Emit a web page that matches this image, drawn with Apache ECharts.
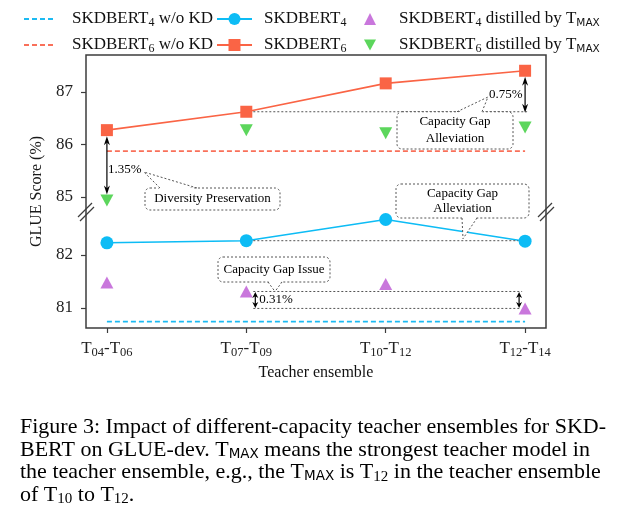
<!DOCTYPE html>
<html><head><meta charset="utf-8">
<script src="https://cdn.jsdelivr.net/npm/echarts@6/dist/echarts.min.js"></script>
<style>html,body{margin:0;padding:0;background:#fff}#c{width:630px;height:528px}</style>
</head><body><div id="c"></div>
<script>
// ---------------- data ----------------
const CATEGORIES = ['T_{04}-T_{06}', 'T_{07}-T_{09}', 'T_{10}-T_{12}', 'T_{12}-T_{14}'];
const SKD6 = [86.27, 86.62, 87.16, 87.40];            // SKDBERT6
const SKD6_TMAX = [84.93, 86.27, 86.21, 86.32];       // SKDBERT6 distilled by TMAX
const SKD6_NOKD = [85.87, 85.87, 85.87, 85.87];       // SKDBERT6 w/o KD
const SKD4 = [82.23, 82.27, 82.67, 82.26];            // SKDBERT4
const SKD4_TMAX = [81.48, 81.31, 81.45, 80.99];       // SKDBERT4 distilled by TMAX
const SKD4_NOKD = [80.74, 80.74, 80.74, 80.74];       // SKDBERT4 w/o KD
const Y_TICKS_TOP = [85, 86, 87];
const Y_TICKS_BOTTOM = [81, 82];
const NAMES = {
  n4nokd: 'SKDBERT_{4} w/o KD', n4: 'SKDBERT_{4}', n4t: 'SKDBERT_{4} distilled by T_{MAX}',
  n6nokd: 'SKDBERT_{6} w/o KD', n6: 'SKDBERT_{6}', n6t: 'SKDBERT_{6} distilled by T_{MAX}'
};
const CAPTION = [
  'Figure 3: Impact of different-capacity teacher ensembles for SKD-',
  'BERT on GLUE-dev. T_{MAX} means the strongest teacher model in',
  'the teacher ensemble, e.g., the T_{MAX} is T_{12} in the teacher ensemble',
  'of T_{10} to T_{12}.'
];
const NOTES = { gapTop: '0.75%', div: '1.35%', gapBottom: '0.31%' };

// ---------------- style ----------------
const SERIF = '"Liberation Serif", "DejaVu Serif", serif';
const SANS = '"DejaVu Sans", sans-serif';
const RED = '#fa6445', BLUE = '#0dbcf5', GREEN = '#33cc33', PURPLE = '#bb55d3';
const RED_D = '#f9705a', BLUE_D = '#1cbaf2';
const G = { l: 86, r: 546, t: 55, b: 328, brk: 210 };
const FRAME = '#3c3c3c';

function richify(s, n, d, m) {
  return s.split(/_\{([^}]*)\}/).map((p, i) => {
    if (!p) return '';
    if (i % 2 === 0) return '{' + n + '|' + p + '}';
    return '{' + (/^\d+$/.test(p) ? d : m) + '|' + p + '}';
  }).join('');
}
const pts = arr => arr.map((v, i) => [i, v]);

const legendRich = {
  n: { fontFamily: SERIF, fontSize: 17, lineHeight: 20, verticalAlign: 'middle', color: '#111' },
  s: { fontFamily: SERIF, fontSize: 12, lineHeight: 12, padding: [8, 0, 0, 0], verticalAlign: 'middle', color: '#111' },
  m: { fontFamily: SANS, fontSize: 10.5, lineHeight: 12, padding: [8, 0, 0, 0], verticalAlign: 'middle', color: '#111' }
};
function mkLegend(name, left, cy, w, h, pad, hideSymbol) {
  const l = {
    data: [name], left: left, top: cy - 10, itemWidth: w, itemHeight: h, padding: 0,
    selectedMode: false,
    formatter: nm => richify(nm, 'n', 's', 'm'),
    textStyle: { rich: legendRich, padding: [0, 0, 0, pad] }
  };
  if (hideSymbol) l.itemStyle = { opacity: 0, color: 'rgba(0,0,0,0)', borderWidth: 0 };
  return l;
}

const chart = echarts.init(document.getElementById('c'), null, { renderer: 'canvas' });
const DOWN_TRI = 'path://M0,0L10,0L5,9Z';

const xBase = { type: 'value', min: -0.15, max: 3.15, splitLine: { show: false } };
const capRich = {
  n: { fontFamily: SERIF, fontSize: 22, fontWeight: 'normal', lineHeight: 22.5, verticalAlign: 'middle', color: '#000' },
  s: { fontFamily: SERIF, fontSize: 15, fontWeight: 'normal', lineHeight: 13, padding: [9, 0, 0, 0], verticalAlign: 'middle', color: '#000' },
  m: { fontFamily: SANS, fontSize: 13.5, fontWeight: 'normal', lineHeight: 13, padding: [9, 0, 0, 0], verticalAlign: 'middle', color: '#000' }
};
const option = {
  animation: false,
  backgroundColor: '#fff',
  title: {
    left: 20, top: 416, padding: 0,
    text: CAPTION.map(l => richify(l, 'n', 's', 'm')).join('\n'),
    textStyle: { fontWeight: 'normal', fontFamily: SERIF, fontSize: 22, rich: capRich }
  },
  legend: [
    mkLegend(NAMES.n4nokd, 23, 19, 32, 12, 11, true),
    mkLegend(NAMES.n4, 216, 19, 35, 15, 7),
    mkLegend(NAMES.n4t, 364, 19, 12, 12, 18),
    mkLegend(NAMES.n6nokd, 23, 45, 32, 12, 11, true),
    mkLegend(NAMES.n6, 216, 45, 35, 15, 7),
    mkLegend(NAMES.n6t, 364, 45, 12, 12, 18)
  ],
  grid: [
    { left: G.l, right: 630 - G.r, top: G.t, height: G.brk - G.t },
    { left: G.l, right: 630 - G.r, top: G.brk, height: G.b - G.brk }
  ],
  xAxis: [
    Object.assign({}, xBase, { gridIndex: 0, show: false, axisLine: { show: false, onZero: false } }),
    Object.assign({}, xBase, {
      gridIndex: 1,
      axisLine: { show: false, onZero: false },
      axisTick: { show: true, length: 5, lineStyle: { color: FRAME, width: 1.2 }, customValues: [0, 1, 2, 3] },
      axisLabel: {
        customValues: [0, 1, 2, 3], margin: 11,
        formatter: v => richify(CATEGORIES[Math.round(v)], 'n', 's', 'm'),
        rich: {
          n: { fontFamily: SERIF, fontSize: 17, lineHeight: 20, verticalAlign: 'middle', color: '#222' },
          s: { fontFamily: SERIF, fontSize: 12.5, lineHeight: 12, padding: [8, 0, 0, 0], verticalAlign: 'middle', color: '#222' }
        },
        fontFamily: SERIF, fontSize: 17, color: '#222'
      },
      name: 'Teacher ensemble', nameLocation: 'middle', nameGap: 37,
      nameTextStyle: { fontFamily: SERIF, fontSize: 16, color: '#111' }
    })
  ],
  yAxis: [
    {
      type: 'value', gridIndex: 0, min: 84.75, max: 87.7,
      splitLine: { show: false }, axisLine: { show: false, onZero: false },
      axisTick: { show: true, length: 5, lineStyle: { color: FRAME, width: 1.2 }, customValues: Y_TICKS_TOP },
      axisLabel: { customValues: Y_TICKS_TOP, margin: 13, fontFamily: SERIF, fontSize: 17, color: '#222' }
    },
    {
      type: 'value', gridIndex: 1, min: 80.62, max: 82.85,
      splitLine: { show: false }, axisLine: { show: false, onZero: false },
      axisTick: { show: true, length: 5, lineStyle: { color: FRAME, width: 1.2 }, customValues: Y_TICKS_BOTTOM },
      axisLabel: { customValues: Y_TICKS_BOTTOM, margin: 13, fontFamily: SERIF, fontSize: 17, color: '#222' }
    }
  ],
  series: [
    { name: NAMES.n4nokd, type: 'line', xAxisIndex: 1, yAxisIndex: 1, data: pts(SKD4_NOKD), symbol: 'none',
      lineStyle: { color: BLUE_D, width: 1.6, type: [5, 3] }, itemStyle: { color: BLUE_D }, z: 2 },
    { name: NAMES.n4, type: 'line', xAxisIndex: 1, yAxisIndex: 1, data: pts(SKD4), symbol: 'circle', symbolSize: 13,
      lineStyle: { color: BLUE, width: 1.6 }, itemStyle: { color: BLUE }, z: 3 },
    { name: NAMES.n4t, type: 'scatter', xAxisIndex: 1, yAxisIndex: 1, data: pts(SKD4_TMAX), symbol: 'triangle', symbolSize: [13, 12],
      itemStyle: { color: PURPLE }, z: 4 },
    { name: NAMES.n6nokd, type: 'line', xAxisIndex: 0, yAxisIndex: 0, data: pts(SKD6_NOKD), symbol: 'none',
      lineStyle: { color: RED_D, width: 1.6, type: [5, 3] }, itemStyle: { color: RED_D }, z: 2 },
    { name: NAMES.n6, type: 'line', xAxisIndex: 0, yAxisIndex: 0, data: pts(SKD6), symbol: 'rect', symbolSize: 12,
      lineStyle: { color: RED, width: 1.6 }, itemStyle: { color: RED }, z: 3 },
    { name: NAMES.n6t, type: 'scatter', xAxisIndex: 0, yAxisIndex: 0, data: pts(SKD6_TMAX), symbol: DOWN_TRI, symbolSize: [13, 12],
      itemStyle: { color: GREEN }, z: 4 }
  ]
};
chart.setOption(option);

// ---------------- annotations ----------------
const P = (g, x, v) => chart.convertToPixel({ gridIndex: g }, [x, v]);
const els = [];
const DOT = { stroke: '#555', lineWidth: 1, lineDash: [2, 2], fill: null };
function line(x1, y1, x2, y2, style, z) {
  els.push({ type: 'line', z: z || 20, shape: { x1, y1, x2, y2 }, style: Object.assign({}, style) });
}
function head(x, y, dir, hl, hw) {
  els.push({ type: 'polygon', z: 21, shape: { points: [[x, y], [x - hw / 2, y + dir * hl], [x, y + dir * hl * 0.7], [x + hw / 2, y + dir * hl]] },
    style: { fill: '#000' } });
}
function arrow(x, ya, yb, hl, hw) {
  line(x, ya + hl * 0.6, x, yb - hl * 0.6, { stroke: '#000', lineWidth: 1.2 });
  head(x, ya, 1, hl, hw);
  head(x, yb, -1, hl, hw);
}
function text(t, x, y, align) {
  els.push({ type: 'text', z: 30, style: { text: t, x, y, fill: '#000', font: '13px ' + SERIF,
    align: align || 'left', verticalAlign: 'middle', textAlign: align || 'left', textVerticalAlign: 'middle' } });
}
function box(x1, y1, x2, y2, tail, lines, lh) {
  els.push({ type: 'rect', z: 22, shape: { x: x1, y: y1, width: x2 - x1, height: y2 - y1, r: 5 },
    style: { fill: '#fff', stroke: '#555', lineWidth: 1, lineDash: [2, 2] } });
  if (tail) {
    const [a, b, by, tx, ty] = tail;
    const inset = by === y1 ? 1.5 : -1.5;
    els.push({ type: 'polygon', z: 23, shape: { points: [[a, by + inset], [tx, ty], [b, by + inset]] }, style: { fill: '#fff' } });
    line(a, by, tx, ty, DOT, 24);
    line(b, by, tx, ty, DOT, 24);
  }
  const cx = (x1 + x2) / 2, cy = (y1 + y2) / 2;
  lines.forEach((t, i) => text(t, cx, cy + (i - (lines.length - 1) / 2) * lh, 'center'));
}

// arrow: SKDBERT6 vs distilled by TMAX at first ensemble
const r0 = P(0, 0, SKD6[0]), g0 = P(0, 0, SKD6_TMAX[0]);
arrow(r0[0], r0[1] + 6, g0[1] - 6, 9, 6);
text(NOTES.div, r0[0] + 1, (r0[1] + g0[1]) / 2 + 4);
box(145, 188, 280, 210, [160, 197, 188, r0[0] + 37, 172], ['Diversity Preservation'], 16);

// top capacity gap: SKDBERT6 at T07 level vs T12
const r1 = P(0, 1, SKD6[1]), r3 = P(0, 3, SKD6[3]);
line(r1[0] + 7, r1[1], r3[0] + 2, r1[1], DOT);
arrow(r3[0], r3[1] + 6, r1[1] + 1, 9, 6);
box(397, r1[1], 513, 149, [457, 482, r1[1], 488, 97], ['Capacity Gap', 'Alleviation'], 17);
text(NOTES.gapTop, 489, 95);

// SKDBERT4 T07 level
const b1 = P(1, 1, SKD4[1]), b3 = P(1, 3, SKD4[3]);
line(b1[0] + 7, b1[1], b3[0] - 7, b1[1], DOT);
box(396, 184, 529, 218, [462, 477, 218, 463, b1[1] - 2], ['Capacity Gap', 'Alleviation'], 15);

// SKDBERT4 distilled: T07 vs T12
const p1 = P(1, 1, SKD4_TMAX[1]), p3 = P(1, 3, SKD4_TMAX[3]);
line(p1[0] + 7, p1[1], p3[0] - 3, p1[1], DOT);
line(p1[0] + 7, p3[1], p3[0] - 5, p3[1], DOT);
arrow(p1[0] + 9, p1[1] + 0.5, p3[1] - 0.5, 6, 6);
arrow(p3[0] - 6, p1[1] + 0.5, p3[1] - 0.5, 6, 6);
box(218, 257, 330, 282, [268, 282, 282, 275, p1[1]], ['Capacity Gap Issue'], 16);
text(NOTES.gapBottom, p1[0] + 13, (p1[1] + p3[1]) / 2);

// frame and axis-break marks
els.push({ type: 'rect', z: 15, shape: { x: G.l, y: G.t, width: G.r - G.l, height: G.b - G.t },
  style: { fill: null, stroke: FRAME, lineWidth: 1.5 } });
[G.l, G.r].forEach(x => {
  line(x - 8, G.brk + 7, x + 6, G.brk - 7, { stroke: FRAME, lineWidth: 1.2 }, 16);
  line(x - 6, G.brk + 11, x + 8, G.brk - 3, { stroke: FRAME, lineWidth: 1.2 }, 16);
});
// y-axis title
els.push({ type: 'text', z: 30, x: 37, y: (G.t + G.b) / 2, rotation: Math.PI / 2,
  style: { text: 'GLUE Score (%)', x: 0, y: 0, fill: '#1a1a1a', font: '16px ' + SERIF,
    align: 'center', verticalAlign: 'middle', textAlign: 'center', textVerticalAlign: 'middle' } });

chart.setOption({ graphic: { elements: els } });
</script>
</body></html>
